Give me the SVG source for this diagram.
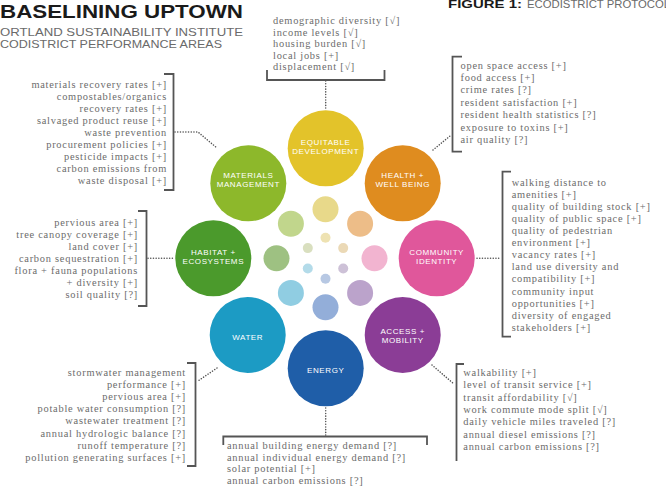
<svg xmlns="http://www.w3.org/2000/svg" width="666" height="490" viewBox="0 0 666 490">
<style>
.title{font-family:"Liberation Sans",Arial,sans-serif;font-weight:bold;fill:#1a1a1a}
.sub{font-family:"Liberation Sans",Arial,sans-serif;fill:#6a6a6a}
.lst{font-family:"Liberation Serif","Times New Roman",serif;font-size:10.4px;letter-spacing:0.75px;fill:#6c6c6c}
.end{text-anchor:end}
.lbl{font-family:"Liberation Sans",Arial,sans-serif;font-size:8px;letter-spacing:0.6px;fill:#ffffff;text-anchor:middle}
.br{fill:none;stroke:#555;stroke-width:1.8}
.dot{fill:none;stroke:#555;stroke-width:1.5;stroke-dasharray:0.1 2.6;stroke-linecap:round}
</style>
<rect width="666" height="490" fill="#ffffff"/>

<g id="header">
<text class="title" x="0" y="18" font-size="18" textLength="243" lengthAdjust="spacingAndGlyphs">BASELINING UPTOWN</text>
<text class="sub" x="0" y="36" font-size="11" textLength="243" lengthAdjust="spacingAndGlyphs">ORTLAND SUSTAINABILITY INSTITUTE</text>
<text class="sub" x="0" y="47.7" font-size="11" textLength="222" lengthAdjust="spacingAndGlyphs">CODISTRICT PERFORMANCE AREAS</text>
<text class="title" x="448" y="7.5" font-size="10" textLength="74" lengthAdjust="spacingAndGlyphs">FIGURE 1:</text>
<text class="sub" x="527" y="7.5" font-size="10" textLength="143" lengthAdjust="spacingAndGlyphs">ECODISTRICT PROTOCOL</text>
</g>

<g id="inner">
<circle cx="325.5" cy="209.3" r="13" fill="#E8D98A"/>
<circle cx="360.1" cy="223.7" r="13" fill="#EDBD88"/>
<circle cx="374.5" cy="258.3" r="13" fill="#F2B4D0"/>
<circle cx="360.1" cy="292.9" r="13" fill="#BBA3CB"/>
<circle cx="325.5" cy="307.3" r="13" fill="#93AED9"/>
<circle cx="290.9" cy="292.9" r="13" fill="#90CDE2"/>
<circle cx="276.5" cy="258.3" r="13" fill="#9EC182"/>
<circle cx="290.9" cy="223.7" r="13" fill="#C1D68C"/>
<circle cx="325.5" cy="237.8" r="5" fill="#EEE2B2"/>
<circle cx="343.2" cy="248.1" r="5" fill="#EBD9B6"/>
<circle cx="343.2" cy="268.5" r="5" fill="#CDC1D7"/>
<circle cx="325.5" cy="278.8" r="5" fill="#B7C8E3"/>
<circle cx="307.8" cy="268.5" r="5" fill="#B3DBE9"/>
<circle cx="307.8" cy="248.1" r="5" fill="#D9DFBF"/>
</g>

<g id="equitable">
<circle cx="325.7" cy="148.3" r="38" fill="#E3C32A"/>
<text class="lbl" x="325.7" y="145">EQUITABLE</text>
<text class="lbl" x="325.7" y="154">DEVELOPMENT</text>
</g>
<g id="health">
<circle cx="402.7" cy="183.3" r="38" fill="#DF8C1F"/>
<text class="lbl" x="402.7" y="178">HEALTH +</text>
<text class="lbl" x="402.7" y="187">WELL BEING</text>
</g>
<g id="community">
<circle cx="436.7" cy="258.3" r="38" fill="#E0579B"/>
<text class="lbl" x="436.7" y="255">COMMUNITY</text>
<text class="lbl" x="436.7" y="264">IDENTITY</text>
</g>
<g id="access">
<circle cx="402.7" cy="335" r="38" fill="#8B3D96"/>
<text class="lbl" x="402.7" y="334">ACCESS +</text>
<text class="lbl" x="402.7" y="343">MOBILITY</text>
</g>
<g id="energy">
<circle cx="325.7" cy="368.3" r="38" fill="#1F5EA8"/>
<text class="lbl" x="325.7" y="372.5">ENERGY</text>
</g>
<g id="water">
<circle cx="247.7" cy="335" r="38" fill="#1C9BC4"/>
<text class="lbl" x="247.7" y="340">WATER</text>
</g>
<g id="habitat">
<circle cx="213.3" cy="258.3" r="38" fill="#4B9A2C"/>
<text class="lbl" x="213.3" y="255">HABITAT +</text>
<text class="lbl" x="213.3" y="264">ECOSYSTEMS</text>
</g>
<g id="materials">
<circle cx="248.3" cy="183.3" r="38" fill="#8DB82B"/>
<text class="lbl" x="248.3" y="178">MATERIALS</text>
<text class="lbl" x="248.3" y="187">MANAGEMENT</text>
</g>

<g id="connectors">
<path class="dot" d="M325.7 81 V108"/>
<path class="dot" d="M433 150 L450 136"/>
<path class="dot" d="M477 258.3 H501"/>
<path class="dot" d="M432 365 L454 384"/>
<path class="dot" d="M325.7 408 V435"/>
<path class="dot" d="M217 368 L198 381"/>
<path class="dot" d="M148 258.3 H174"/>
<path class="dot" d="M175 132 H198 L217 148"/>
</g>

<g id="list-equitable">
<path class="br" d="M267 70 V80 H384.5 V70"/>
<text class="lst" x="273" y="24">demographic diversity [√]</text>
<text class="lst" x="273" y="35.5">income levels [√]</text>
<text class="lst" x="273" y="47">housing burden [√]</text>
<text class="lst" x="273" y="58.5">local jobs [+]</text>
<text class="lst" x="273" y="70">displacement [√]</text>
</g>

<g id="list-health">
<path class="br" d="M462 56.7 H452.5 V151.7 H462"/>
<text class="lst" x="460.5" y="68.5">open space access [+]</text>
<text class="lst" x="460.5" y="80.9">food access [+]</text>
<text class="lst" x="460.5" y="93.3">crime rates [?]</text>
<text class="lst" x="460.5" y="105.7">resident satisfaction [+]</text>
<text class="lst" x="460.5" y="118.1">resident health statistics [?]</text>
<text class="lst" x="460.5" y="130.5">exposure to toxins [+]</text>
<text class="lst" x="460.5" y="142.9">air quality [?]</text>
</g>

<g id="list-community">
<path class="br" d="M511 171.7 H502.5 V336.7 H511"/>
<text class="lst" x="511.7" y="186">walking distance to</text>
<text class="lst" x="511.7" y="198">amenities [+]</text>
<text class="lst" x="511.7" y="210.1">quality of building stock [+]</text>
<text class="lst" x="511.7" y="222.2">quality of public space [+]</text>
<text class="lst" x="511.7" y="234.2">quality of pedestrian</text>
<text class="lst" x="511.7" y="246.3">environment [+]</text>
<text class="lst" x="511.7" y="258.3">vacancy rates [+]</text>
<text class="lst" x="511.7" y="270.4">land use diversity and</text>
<text class="lst" x="511.7" y="282.4">compatibility [+]</text>
<text class="lst" x="511.7" y="294.5">community input</text>
<text class="lst" x="511.7" y="306.5">opportunities [+]</text>
<text class="lst" x="511.7" y="318.6">diversity of engaged</text>
<text class="lst" x="511.7" y="330.6">stakeholders [+]</text>
</g>

<g id="list-access">
<path class="br" d="M464 364 H456.5 V461"/>
<text class="lst" x="463.3" y="376">walkability [+]</text>
<text class="lst" x="463.3" y="388.3">level of transit service [+]</text>
<text class="lst" x="463.3" y="400.6">transit affordability [√]</text>
<text class="lst" x="463.3" y="412.9">work commute mode split [√]</text>
<text class="lst" x="463.3" y="425.2">daily vehicle miles traveled [?]</text>
<text class="lst" x="463.3" y="437.5">annual diesel emissions [?]</text>
<text class="lst" x="463.3" y="449.8">annual carbon emissions [?]</text>
</g>

<g id="list-energy">
<path class="br" d="M223.3 445 V436.5 H427 V445"/>
<text class="lst" x="227" y="449">annual building energy demand [?]</text>
<text class="lst" x="227" y="460.6">annual individual energy demand [?]</text>
<text class="lst" x="227" y="472.2">solar potential [+]</text>
<text class="lst" x="227" y="483.8">annual carbon emissions [?]</text>
</g>

<g id="list-water">
<path class="br" d="M187 363 H195.5 V466 H187"/>
<text class="lst end" x="186" y="375.5">stormwater management</text>
<text class="lst end" x="186" y="387.7">performance [+]</text>
<text class="lst end" x="186" y="399.9">pervious area [+]</text>
<text class="lst end" x="186" y="412.1">potable water consumption [?]</text>
<text class="lst end" x="186" y="424.3">wastewater treatment [?]</text>
<text class="lst end" x="186" y="436.5">annual hydrologic balance [?]</text>
<text class="lst end" x="186" y="448.7">runoff temperature [?]</text>
<text class="lst end" x="186" y="460.9">pollution generating surfaces [+]</text>
</g>

<g id="list-habitat">
<path class="br" d="M138 211 H146.5 V306 H138"/>
<text class="lst end" x="138" y="225.5">pervious area [+]</text>
<text class="lst end" x="138" y="237.5">tree canopy coverage [+]</text>
<text class="lst end" x="138" y="249.5">land cover [+]</text>
<text class="lst end" x="138" y="261.5">carbon sequestration [+]</text>
<text class="lst end" x="138" y="273.5">flora + fauna populations</text>
<text class="lst end" x="138" y="285.5">+ diversity [+]</text>
<text class="lst end" x="138" y="297.5">soil quality [?]</text>
</g>

<g id="list-materials">
<path class="br" d="M164 74 H173.5 V190 H164"/>
<text class="lst end" x="167" y="87.5">materials recovery rates [+]</text>
<text class="lst end" x="167" y="99.5">compostables/organics</text>
<text class="lst end" x="167" y="111.5">recovery rates [+]</text>
<text class="lst end" x="167" y="123.5">salvaged product reuse [+]</text>
<text class="lst end" x="167" y="135.5">waste prevention</text>
<text class="lst end" x="167" y="147.5">procurement policies [+]</text>
<text class="lst end" x="167" y="159.5">pesticide impacts [+]</text>
<text class="lst end" x="167" y="171.5">carbon emissions from</text>
<text class="lst end" x="167" y="183.5">waste disposal [+]</text>
</g>
</svg>
